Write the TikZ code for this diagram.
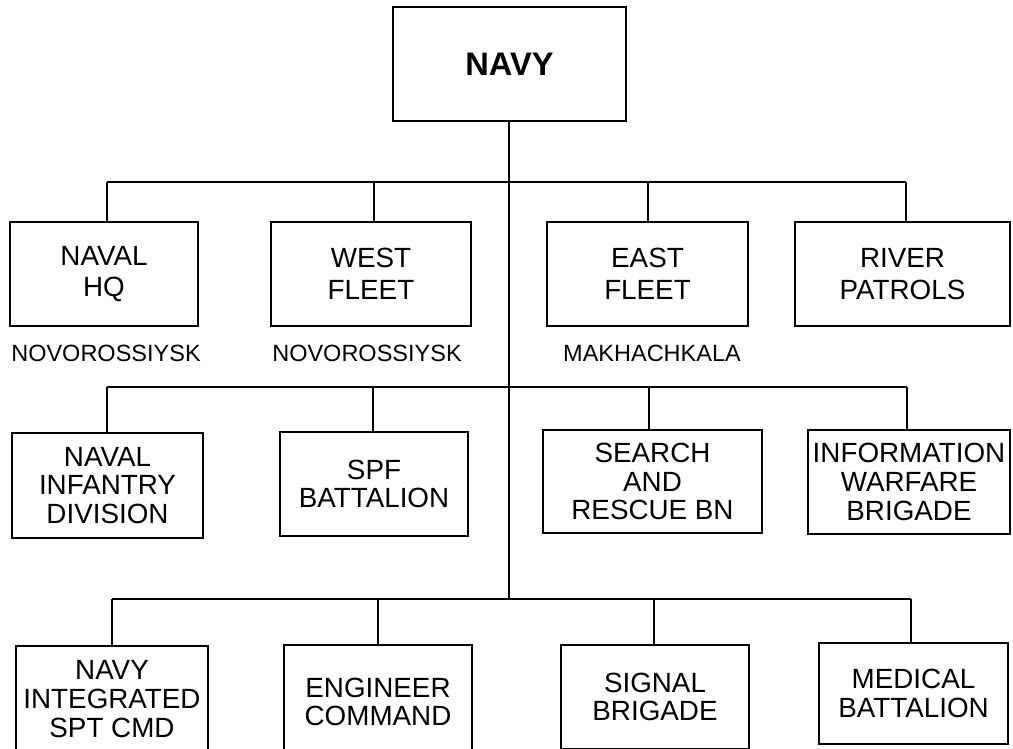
\documentclass[tikz,border=0pt]{standalone}
\usepackage{fontspec}
\setmainfont{Liberation Sans}
\begin{document}
\begin{tikzpicture}[x=1pt,y=-1pt,
  line width=1.5pt,
  unit/.style={draw, align=center, inner sep=0pt, font=\fontsize{27.8}{28.8}\selectfont},
  unitA/.style={unit, font=\fontsize{27.8}{31.5}\selectfont},
  loc/.style={anchor=base, inner sep=0pt, font=\fontsize{23.5}{26}\selectfont},
  bx/.style 2 args={minimum width=#1pt, minimum height=#2pt}]
\clip (0,0) rectangle (1013,748);
\fill[white] (0,0) rectangle (1013,748);
% top
\node[draw, inner sep=0pt, bx={233}{114}, font=\fontsize{32.6}{36}\selectfont\bfseries] (navy) at (509.5,64) {NAVY};
% row 1
\node[unitA, bx={188}{104}] (hq) at (104,274) {NAVAL\\HQ};
\node[unitA, bx={200}{104}] (wf) at (371,274) {WEST\\FLEET};
\node[unitA, bx={201}{104}] (ef) at (647.5,274) {EAST\\FLEET};
\node[unitA, bx={215}{104}] (rp) at (902.5,274) {RIVER\\PATROLS};
\node[loc] (l1) at (106,361) {NOVOROSSIYSK};
\node[loc] (l2) at (367,361) {NOVOROSSIYSK};
\node[loc] (l3) at (652,361) {MAKHACHKALA};
% row 2
\node[unit, bx={191}{105}] (nid) at (107.5,485.5) {NAVAL\\INFANTRY\\DIVISION};
\node[unit, bx={188}{104}] (spf) at (374,484) {SPF\\BATTALION};
\node[unit, bx={219}{103}] (sar) at (652.5,481.5) {SEARCH\\AND\\RESCUE BN};
\node[unit, bx={202}{104}] (iwb) at (909,482) {INFORMATION\\WARFARE\\BRIGADE};
% row 3
\node[unit, bx={192}{106}] (nis) at (112,699) {NAVY\\INTEGRATED\\SPT CMD};
\node[unit, bx={188}{114}] (eng) at (378,702) {ENGINEER\\COMMAND};
\node[unit, bx={188}{104}] (sig) at (655,697) {SIGNAL\\BRIGADE};
\node[unit, bx={189}{101}] (med) at (913.5,693.5) {MEDICAL\\BATTALION};
% bus coordinates
\coordinate (t1) at (509,182);
\coordinate (t3) at (509,599);
\coordinate (a1) at (107,182); \coordinate (a2) at (374,182);
\coordinate (a3) at (648,182); \coordinate (a4) at (906,182);
\coordinate (b1) at (107,387); \coordinate (b2) at (373,387);
\coordinate (b3) at (649,387); \coordinate (b4) at (907,387);
\coordinate (c1) at (112,599); \coordinate (c2) at (378,599);
\coordinate (c3) at (654,599); \coordinate (c4) at (911,599);
% connectors
\draw (navy.south -| t1) -- (t3);
\draw (a1) -- (a4);
\draw (b1) -- (b4);
\draw (c1) -- (c4);
\draw (a1) -- (a1 |- hq.north);
\draw (a2) -- (a2 |- wf.north);
\draw (a3) -- (a3 |- ef.north);
\draw (a4) -- (a4 |- rp.north);
\draw (b1) -- (b1 |- nid.north);
\draw (b2) -- (b2 |- spf.north);
\draw (b3) -- (b3 |- sar.north);
\draw (b4) -- (b4 |- iwb.north);
\draw (c1) -- (c1 |- nis.north);
\draw (c2) -- (c2 |- eng.north);
\draw (c3) -- (c3 |- sig.north);
\draw (c4) -- (c4 |- med.north);
\end{tikzpicture}
\end{document}
